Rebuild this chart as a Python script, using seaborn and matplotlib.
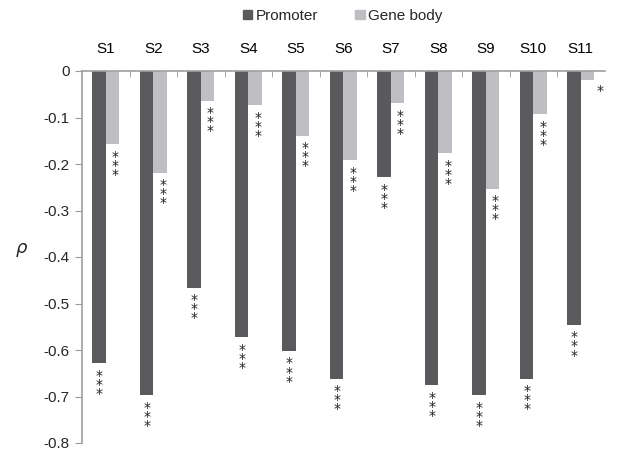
import matplotlib
matplotlib.use("Agg")
import matplotlib.pyplot as plt
from matplotlib.patches import Patch
import seaborn as sns
import pandas as pd

samples = ["S1", "S2", "S3", "S4", "S5", "S6", "S7", "S8", "S9", "S10", "S11"]
promoter = [-0.628, -0.697, -0.466, -0.573, -0.602, -0.662, -0.228, -0.676, -0.697, -0.662, -0.546]
gene_body = [-0.158, -0.219, -0.064, -0.073, -0.139, -0.192, -0.069, -0.177, -0.253, -0.093, -0.02]
promoter_sig = ["***"] * 11
gene_body_sig = ["***"] * 10 + ["*"]
regions = ["Promoter", "Gene body"]
colors = ["#5a5a5c", "#bfbfc3"]

df = pd.DataFrame({
    "sample": samples * 2,
    "rho": promoter + gene_body,
    "region": [regions[0]] * len(samples) + [regions[1]] * len(samples),
})

sns.set_style("white")
plt.rcParams["font.family"] = ["Liberation Sans", "DejaVu Sans"]

fig = plt.figure(figsize=(6.18, 4.5), dpi=100)
ax = fig.add_axes([82 / 618, 1 - 443 / 450, 522.5 / 618, 372 / 450])

sns.barplot(data=df, x="sample", y="rho", hue="region", order=samples,
            hue_order=regions, palette=colors, width=0.56, gap=0,
            saturation=1, legend=False, linewidth=0, ax=ax)

ax.set_ylim(-0.8, 0)
ax.set_xlim(-0.5, len(samples) - 0.5)
ax.set_yticks([0, -0.1, -0.2, -0.3, -0.4, -0.5, -0.6, -0.7, -0.8])
ax.set_yticklabels(["0", "-0.1", "-0.2", "-0.3", "-0.4", "-0.5", "-0.6", "-0.7", "-0.8"])
ax.set_xlabel("")
ax.set_ylabel(r"$\rho$", rotation=0, fontsize=13, labelpad=17, va="center")
ax.yaxis.set_label_coords(-0.115, 0.52)

ax.xaxis.tick_top()
ax.xaxis.set_label_position("top")
ax.set_xticks(range(len(samples)))
ax.set_xticks([i + 0.5 for i in range(len(samples) - 1)], minor=True)
ax.tick_params(axis="x", which="major", length=0, pad=11, labelsize=11, colors="black")
ax.tick_params(axis="x", which="minor", direction="in", length=4, color="#999999", top=True)
ax.tick_params(axis="y", length=5, color="#999999", labelsize=11, pad=4, left=True)

for side in ["right", "bottom"]:
    ax.spines[side].set_visible(False)
for side in ["top", "left"]:
    ax.spines[side].set_color("#a0a0a0")
    ax.spines[side].set_linewidth(1.2)

for container, sigs, dx in zip(ax.containers, [promoter_sig, gene_body_sig], [0, 2]):
    for bar, s in zip(container, sigs):
        x = bar.get_x() + bar.get_width() / 2
        y = min(bar.get_y(), bar.get_y() + bar.get_height())
        if s == "*":
            ax.annotate("*", (x, y), xytext=(9, -3), textcoords="offset points",
                        ha="center", va="top", fontsize=10, family="DejaVu Sans",
                        color="#222222")
        else:
            ax.annotate("\n".join(s), (x, y), xytext=(dx, -4), textcoords="offset points",
                        ha="center", va="top", fontsize=10, linespacing=0.55,
                        family="DejaVu Sans", color="#222222")

handles = [Patch(color=c, label=r) for c, r in zip(colors, regions)]
fig.legend(handles=handles, loc="center", bbox_to_anchor=(343 / 618, 1 - 16 / 450),
           ncol=2, frameon=False, handlelength=0.6, handleheight=0.6,
           handletextpad=0.25, columnspacing=2.4, fontsize=11)

fig.savefig("out.png", dpi=100)
